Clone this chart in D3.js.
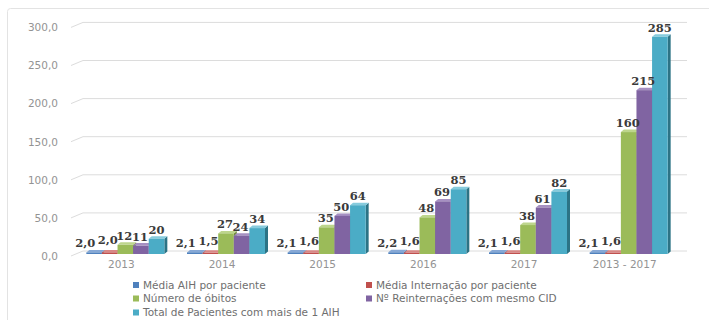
<!DOCTYPE html>
<html>
<head>
<meta charset="utf-8">
<script src="https://cdn.jsdelivr.net/npm/d3@7"></script>
<style>
  html, body { margin: 0; padding: 0; background: #fff; }
  svg { display: block; }
</style>
</head>
<body>
<svg id="chart" width="709" height="320"></svg>
<script>
// Categories and series
const categories = ["2013", "2014", "2015", "2016", "2017", "2013 - 2017"];
const seriesNames = [
  "Média AIH por paciente",
  "Média Internação por paciente",
  "Número de óbitos",
  "Nº Reinternações com mesmo CID",
  "Total de Pacientes com mais de 1 AIH"
];
const mediaAih        = [2.0, 2.1, 2.1, 2.2, 2.1, 2.1];
const mediaInternacao = [2.0, 1.5, 1.6, 1.6, 1.6, 1.6];
const numeroObitos    = [12, 27, 35, 48, 38, 160];
const reinternacoes   = [11, 24, 50, 69, 61, 215];
const totalPacientes  = [20, 34, 64, 85, 82, 285];
const yTicks = [0, 50, 100, 150, 200, 250, 300];

const seriesValues = [mediaAih, mediaInternacao, numeroObitos, reinternacoes, totalPacientes];
const decimals = [1, 1, 0, 0, 0];

// Face colours: front, side, top
const palette = [
  { front: "#4F81BD", side: "#365F8F", top: "#86A8D6" },
  { front: "#C0504D", side: "#8E3936", top: "#D88886" },
  { front: "#9BBB59", side: "#728A3E", top: "#BDD58C" },
  { front: "#8064A2", side: "#5C4778", top: "#A690C2" },
  { front: "#4BACC6", side: "#2C7385", top: "#86CBDD" }
];

const svg = d3.select("#chart");
const fmt = (v, d) => d3.format("." + d + "f")(v).replace(".", ",");

// Outer chart frame
svg.append("rect")
  .attr("x", 7.5).attr("y", 8.5)
  .attr("width", 720).attr("height", 330)
  .attr("rx", 3)
  .attr("fill", "#fff")
  .attr("stroke", "#e3e3e3");

// Front plane scales
const x = d3.scaleBand().domain(categories).range([71, 675]).padding(0);
const y = d3.scaleLinear().domain([0, 300]).range([256, 27.4]);
const inner = d3.scaleBand().domain(d3.range(5)).range([-39, 39]).padding(0);

// Depth of the back wall and of the bars
const wall = { dx: 12, dy: -5 };
const barShift = { dx: 4, dy: -2 };
const barDepth = { dx: 3, dy: -2.5 };

// Gridlines on the side and back walls
const grid = svg.append("g");
yTicks.forEach(t => {
  const yy = y(t);
  grid.append("path")
    .attr("d", `M${x.range()[0]},${yy} L${x.range()[0] + wall.dx},${yy + wall.dy} L${x.range()[1] + wall.dx},${yy + wall.dy}`)
    .attr("fill", "none")
    .attr("stroke", "#dcdcdc")
    .attr("stroke-width", 1);
});

// Value axis labels
const yAxis = d3.axisLeft(y).tickValues(yTicks).tickSize(0).tickPadding(0)
  .tickFormat(d => fmt(d, 1));
const yAxisG = svg.append("g").attr("transform", "translate(58,0)").call(yAxis);
yAxisG.select(".domain").remove();
yAxisG.selectAll("text")
  .attr("font-family", "DejaVu Sans, sans-serif")
  .attr("font-size", 10.5)
  .attr("fill", "#939393");

// Category axis labels
const xAxis = d3.axisBottom(x).tickSize(0).tickPadding(0);
const xAxisG = svg.append("g").attr("transform", "translate(0,261)").call(xAxis);
xAxisG.select(".domain").remove();
xAxisG.selectAll("text")
  .attr("font-family", "DejaVu Sans, sans-serif")
  .attr("font-size", 10.5)
  .attr("fill", "#939393");

// 3D columns
const bars = svg.append("g");
const barData = [];
categories.forEach((c, ci) => {
  seriesValues.forEach((vals, si) => {
    barData.push({ c, ci, si, v: vals[ci] });
  });
});

barData.forEach(d => {
  const w = inner.bandwidth();
  const x0 = x(d.c) + x.bandwidth() / 2 + barShift.dx + inner(d.si);
  const x1 = x0 + w;
  const yb = y(0) + barShift.dy;
  const yt = y(d.v) + barShift.dy;
  const col = palette[d.si];
  const g = bars.append("g");
  // right side face
  g.append("path")
    .attr("d", `M${x1},${yb} L${x1 + barDepth.dx},${yb + barDepth.dy} L${x1 + barDepth.dx},${yt + barDepth.dy} L${x1},${yt} Z`)
    .attr("fill", col.side);
  // top face
  g.append("path")
    .attr("d", `M${x0},${yt} L${x1},${yt} L${x1 + barDepth.dx},${yt + barDepth.dy} L${x0 + barDepth.dx},${yt + barDepth.dy} Z`)
    .attr("fill", col.top);
  // front face
  g.append("rect")
    .attr("x", x0).attr("y", yt)
    .attr("width", w).attr("height", Math.max(0.5, yb - yt))
    .attr("fill", col.front);
});

// Data labels
const labelNudge = [-9, -2, -1, -1, 0];
const labelLift = [0, 3, 0, 0, 0];
const labels = svg.append("g");
barData.forEach(d => {
  const cx = x(d.c) + x.bandwidth() / 2 + barShift.dx + inner(d.si) + inner.bandwidth() / 2 + labelNudge[d.si];
  const yt = y(d.v) + barShift.dy;
  labels.append("text")
    .attr("x", cx)
    .attr("y", yt - 5 - labelLift[d.si])
    .attr("text-anchor", "middle")
    .attr("font-family", "DejaVu Serif, serif")
    .attr("font-weight", "bold")
    .attr("font-size", 11.5)
    .attr("fill", "#3a3a3a")
    .text(fmt(d.v, decimals[d.si]));
});

// Legend, two columns
const legendPos = [
  { x: 133, y: 285 }, { x: 366, y: 285 },
  { x: 133, y: 298.5 }, { x: 366, y: 298.5 },
  { x: 133, y: 312.5 }
];
const legend = svg.append("g");
seriesNames.forEach((name, i) => {
  const p = legendPos[i];
  legend.append("rect")
    .attr("x", p.x).attr("y", p.y - 3)
    .attr("width", 6).attr("height", 6)
    .attr("fill", palette[i].front);
  legend.append("text")
    .attr("x", p.x + 10).attr("y", p.y)
    .attr("dy", "0.35em")
    .attr("font-family", "DejaVu Sans, sans-serif")
    .attr("font-size", 10.5)
    .attr("fill", "#6f6f6f")
    .text(name);
});
</script>
</body>
</html>
